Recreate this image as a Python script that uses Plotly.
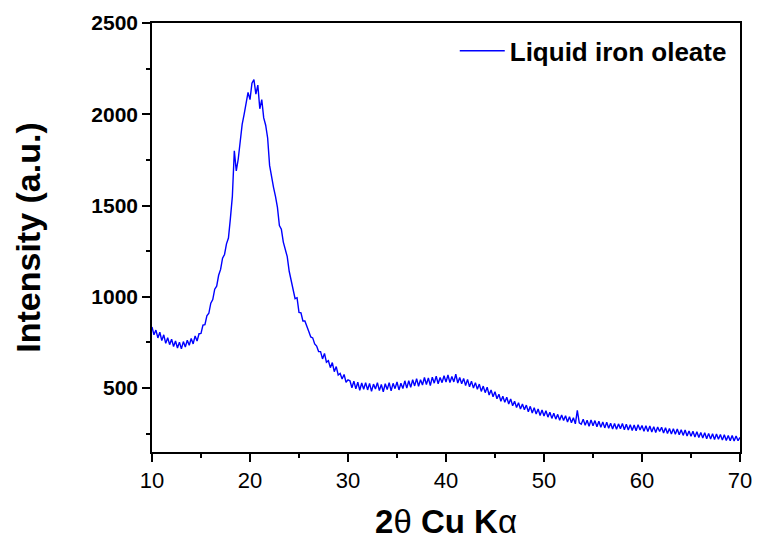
import numpy as np
import plotly.graph_objects as go

# 2-theta grid (degrees), 0.2 deg step from 10 to 70
two_theta = np.round(np.arange(10.0, 70.0001, 0.2), 1)

intensity = [
    835, 792, 818, 775, 806,
    760, 792, 745, 776, 738,
    768, 728, 758, 720, 752,
    715, 755, 725, 762, 735,
    772, 742, 786, 758, 798,
    800, 845, 848, 896, 910,
    965, 985, 1042, 1058, 1118,
    1150, 1212, 1232, 1290, 1322,
    1430, 1550, 1800, 1690, 1755,
    1850, 1945, 2000, 2065, 2120,
    2080, 2170, 2190, 2110, 2160,
    2030, 2080, 1980, 1940, 1870,
    1720, 1650, 1600, 1550, 1490,
    1390, 1370, 1300, 1260, 1220,
    1140, 1090, 1050, 990, 995,
    915, 912, 868, 868, 832,
    810, 780, 775, 742, 730,
    700, 700, 660, 690, 642,
    650, 612, 640, 590, 618,
    572, 580, 550, 575, 532,
    545, 540, 502, 538, 496,
    532, 488, 528, 494, 530,
    490, 526, 482, 522, 495,
    530, 486, 520, 480, 524,
    492, 530, 485, 526, 497,
    534, 490, 527, 498, 540,
    500, 540, 504, 546, 512,
    552, 510, 546, 517, 558,
    520, 556, 514, 560, 527,
    565, 524, 558, 530, 568,
    533, 572, 530, 564, 534,
    576, 528, 558, 524, 553,
    514, 548, 507, 538, 500,
    530, 494, 522, 482, 511,
    475, 505, 462, 490, 453,
    480, 442, 466, 428, 455,
    422, 450, 413, 441, 403,
    428, 394, 420, 385, 413,
    382, 407, 370, 400, 364,
    392, 358, 386, 350, 380,
    347, 376, 341, 368, 334,
    362, 330, 356, 324, 353,
    322, 349, 314, 343, 310,
    338, 304, 378, 310, 302,
    330, 297, 324, 291, 326,
    294, 322, 288, 318, 286,
    314, 282, 313, 280, 308,
    276, 306, 274, 304, 278,
    306, 272, 302, 270, 299,
    268, 298, 266, 300, 271,
    295, 264, 294, 262, 292,
    260, 289, 257, 287, 262,
    286, 254, 283, 251, 279,
    249, 278, 247, 276, 244,
    272, 241, 270, 238, 265,
    236, 264, 232, 261, 230,
    257, 227, 255, 223, 252,
    221, 250, 218, 248, 220,
    246, 215, 244, 213, 241,
    211, 240, 210, 238, 212,
    230,
]

series_name = "Liquid iron oleate"
x_ticks = [10, 20, 30, 40, 50, 60, 70]
y_ticks = [500, 1000, 1500, 2000, 2500]

FONT = "Liberation Sans, Arial, sans-serif"

fig = go.Figure()
fig.add_trace(go.Scatter(
    x=two_theta, y=intensity, mode="lines", name=series_name,
    line=dict(color="#0000FF", width=1.4),
))

fig.update_layout(
    width=757, height=540,
    margin=dict(l=152, r=17, t=23, b=88),
    paper_bgcolor="white", plot_bgcolor="white",
    font=dict(family=FONT, color="black"),
    showlegend=True,
    legend=dict(
        x=0.986, y=0.99, xanchor="right", yanchor="top",
        bgcolor="rgba(0,0,0,0)",
        font=dict(family=FONT, size=26, color="black", weight="bold"),
        itemwidth=45,
    ),
)

fig.update_xaxes(
    range=[10, 70], tickvals=x_ticks, automargin=False,
    ticks="outside", ticklen=8, tickwidth=1.5, tickcolor="black",
    showline=True, linewidth=1.5, linecolor="black", mirror=True,
    showgrid=False, zeroline=False,
    tickfont=dict(family=FONT, size=22, color="black"),
    minor=dict(dtick=5, tick0=10, ticks="outside", ticklen=4, tickwidth=1.5, tickcolor="black", showgrid=False),
    title=dict(text="<b>2</b>θ<b> Cu K</b>α", font=dict(family=FONT, size=33, color="black"), standoff=18),
)
fig.update_yaxes(
    range=[150, 2500], tickvals=y_ticks, automargin=False,
    ticks="outside", ticklen=8, tickwidth=1.5, tickcolor="black",
    showline=True, linewidth=1.5, linecolor="black", mirror=True,
    showgrid=False, zeroline=False,
    tickfont=dict(family=FONT, size=21, color="black", weight="bold"),
    minor=dict(dtick=250, tick0=0, ticks="outside", ticklen=4, tickwidth=1.5, tickcolor="black", showgrid=False),
    title=dict(text="<b>Intensity (a.u.)</b>", font=dict(family=FONT, size=34, color="black"), standoff=40),
)

fig.write_html("out.html")
